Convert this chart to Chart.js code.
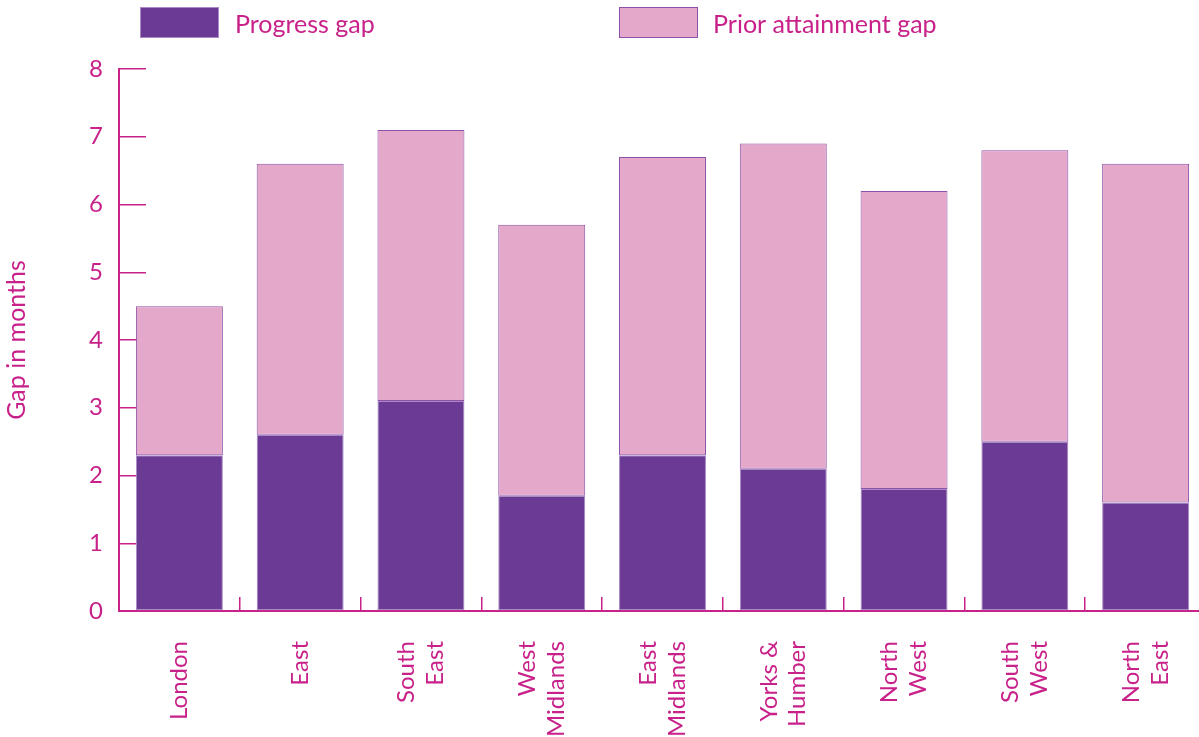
<!DOCTYPE html>
<html>
<head>
<meta charset="utf-8">
<script src="https://cdn.jsdelivr.net/npm/chart.js@4/dist/chart.umd.min.js"></script>
<style>
  html, body { margin: 0; padding: 0; background: #fff; overflow: hidden; }
  #wrap { width: 1206px; height: 737px; }
</style>
</head>
<body>
<div id="wrap"><canvas id="gapChart" width="1206" height="737"></canvas></div>
<script>
// regions along the x axis (multi-line labels)
const regions = [
  'London', 'East', ['South', 'East'], ['West', 'Midlands'], ['East', 'Midlands'],
  ['Yorks &', 'Humber'], ['North', 'West'], ['South', 'West'], ['North', 'East']
];
// gap in months
const progressGap = [2.3, 2.6, 3.1, 1.7, 2.3, 2.1, 1.8, 2.5, 1.6];
const priorAttainmentGap = [2.2, 4.0, 4.0, 4.0, 4.4, 4.8, 4.4, 4.3, 5.0];
const yTicks = [0, 1, 2, 3, 4, 5, 6, 7, 8];

const pink = '#c8228a';
const font = 'Lato';

// legend drawn by hand so the two items sit where they do in the original
const legendPlugin = {
  id: 'gapLegend',
  afterDraw(chart) {
    const ctx = chart.ctx;
    const spots = [{ box: 140, text: 235 }, { box: 619, text: 713 }];
    ctx.save();
    chart.data.datasets.forEach((ds, i) => {
      const s = spots[i];
      ctx.fillStyle = ds.backgroundColor;
      ctx.fillRect(s.box, 7, 79, 31);
      ctx.strokeStyle = ds.borderColor;
      ctx.lineWidth = 1;
      ctx.strokeRect(s.box + 0.5, 7.5, 78, 30);
      ctx.fillStyle = pink;
      ctx.font = '25px ' + font;
      ctx.textBaseline = 'middle';
      ctx.fillText(ds.label, s.text, 25);
    });
    ctx.restore();
  }
};

// rotated two-line labels: centre the lines on the bar instead of starting at it
const centreLabels = {
  id: 'centreLabels',
  beforeDraw(chart) {
    chart.scales.x.getLabelItems().forEach(item => {
      if (Array.isArray(item.label) && !item._centred) {
        item.textOffset -= (item.label.length - 1) * item.font.lineHeight / 2;
        item._centred = true;
      }
    });
  }
};

new Chart(document.getElementById('gapChart').getContext('2d'), {
  type: 'bar',
  data: {
    labels: regions,
    datasets: [
      {
        label: 'Progress gap',
        data: progressGap,
        backgroundColor: '#6a3a94',
        borderColor: '#a98ac6',
        borderWidth: 1,
        borderSkipped: false
      },
      {
        label: 'Prior attainment gap',
        data: priorAttainmentGap,
        backgroundColor: '#e3a8ca',
        borderColor: '#8f50a8',
        borderWidth: 1,
        borderSkipped: false
      }
    ]
  },
  plugins: [legendPlugin, centreLabels],
  options: {
    responsive: false,
    animation: false,
    events: [],
    layout: { padding: { top: 69, right: 0, left: 0, bottom: 0 } },
    plugins: { legend: { display: false }, tooltip: { enabled: false } },
    datasets: { bar: { barPercentage: 0.72, categoryPercentage: 1 } },
    scales: {
      x: {
        stacked: true,
        grid: {
          offset: true,
          drawOnChartArea: false,
          drawTicks: true,
          tickLength: -14,
          color: pink,
          lineWidth: 1.5
        },
        border: { display: true, color: pink, width: 2 },
        ticks: {
          color: pink,
          font: { family: font, size: 24 },
          minRotation: 90,
          maxRotation: 90,
          padding: 44,
          autoSkip: false
        },
        afterFit(scale) {
          scale.height = 126;
          scale.paddingLeft = 0;
          scale.paddingRight = 0;
        }
      },
      y: {
        stacked: true,
        min: 0,
        max: 8,
        afterBuildTicks(scale) { scale.ticks = yTicks.map(v => ({ value: v })); },
        grid: {
          drawOnChartArea: false,
          drawTicks: true,
          tickLength: -27,
          color: pink,
          lineWidth: 1.5
        },
        border: { display: true, color: pink, width: 2 },
        ticks: {
          color: pink,
          font: { family: font, size: 24 },
          padding: 43
        },
        title: {
          display: true,
          text: 'Gap in months',
          color: pink,
          font: { family: font, size: 25 },
          padding: { top: 2, bottom: 0 }
        },
        afterFit(scale) {
          scale.width = 119;
          scale.paddingTop = 0;
          scale.paddingBottom = 0;
        }
      }
    }
  }
});
</script>
</body>
</html>
